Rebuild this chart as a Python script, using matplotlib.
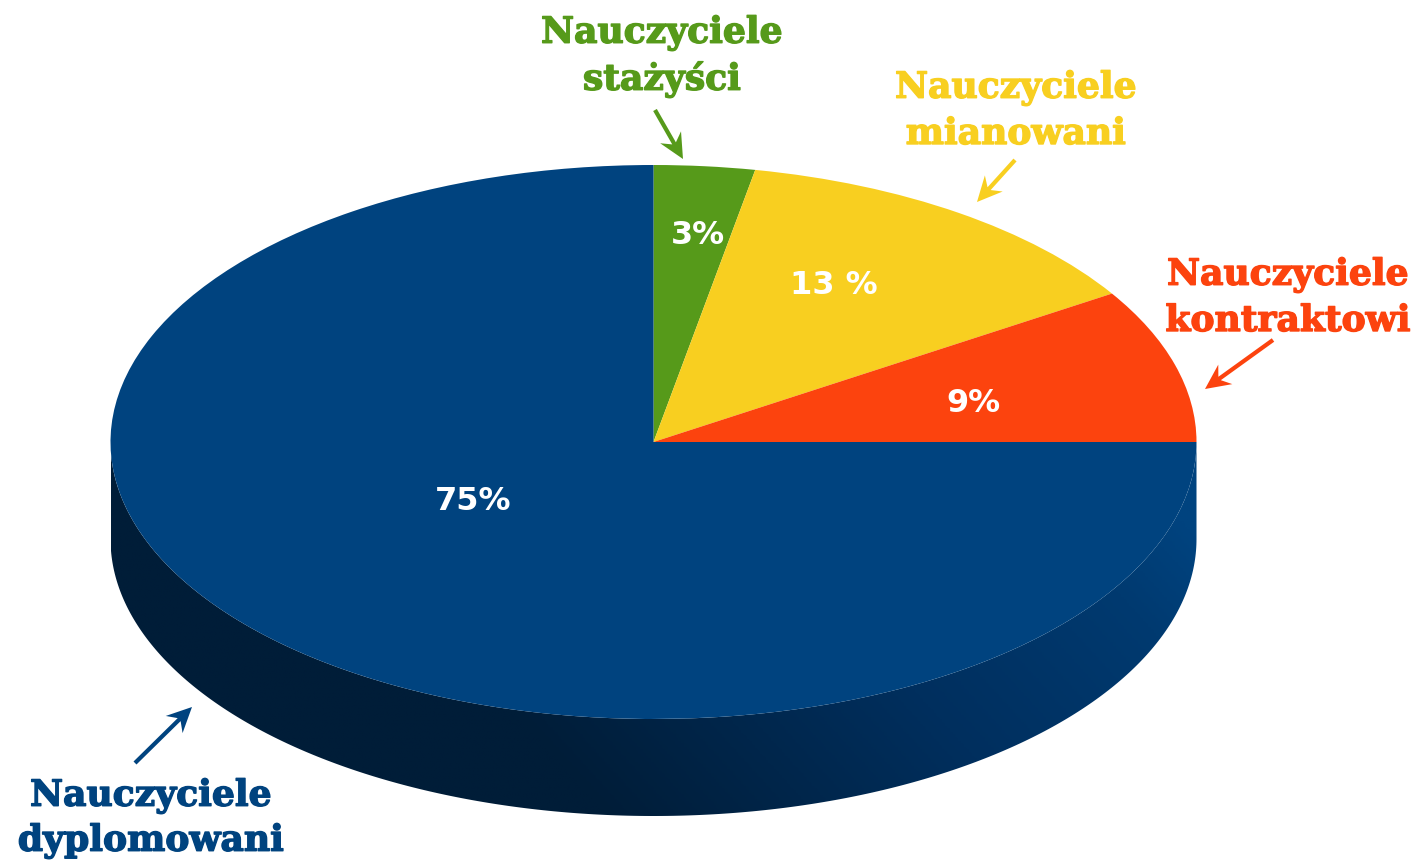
import numpy as np
import matplotlib
matplotlib.use("Agg")
import matplotlib.pyplot as plt
import matplotlib.patheffects as pe
from matplotlib.patches import Polygon
from matplotlib.colors import LinearSegmentedColormap

# slices, clockwise from the top
shares = [3, 13, 9, 75]
share_labels = ["3%", "13 %", "9%", "75%"]
group_labels = [
    ["Nauczyciele", "stażyści"],
    ["Nauczyciele", "mianowani"],
    ["Nauczyciele", "kontraktowi"],
    ["Nauczyciele", "dyplomowani"],
]

COLORS = ["#569a1a", "#f8cf20", "#fc430e", "#00437f"]
W, H = 1416, 860
CX, CY, RX, RY = 653.5, 442, 543, 277
DEPTH = 97 / RY

fig = plt.figure(figsize=(W / 100, H / 100), dpi=100)

# pie axes: unit circle squashed into the ellipse
ax = fig.add_axes([0, 0, 1, 1])
ax.pie(shares, colors=COLORS, startangle=90, counterclock=False,
       wedgeprops={"linewidth": 0.6, "edgecolor": "none", "zorder": 3})
ax.set_aspect("auto")
xlim = (-CX / RX, (W - CX) / RX)
ylim = ((CY - H) / RY, CY / RY)

# side wall with gradient
th = np.radians(np.linspace(180, 360, 300))
top = np.column_stack([np.cos(th), np.sin(th)])
bottom = top[::-1] - [0, DEPTH]
wall = Polygon(np.vstack([top, bottom]), closed=True, fc="none", ec="none", transform=ax.transData)
ax.add_patch(wall)
cmap = LinearSegmentedColormap.from_list(
    "wall", [(0, "#001d38"), (0.5, "#002f5e"), (0.85, "#003a70"), (1, "#00437f")])
gx, gy = np.meshgrid(np.linspace(0, 1, 400), np.linspace(0, 1, 200))
grad = np.clip(0.9 * (gx - 0.3) / 0.7 + 0.4 * (0.5 - gy), 0, 1)
im = ax.imshow(grad, cmap=cmap, extent=(-1, 1, -1 - DEPTH, 0), origin="upper",
               aspect="auto", zorder=1, vmin=0, vmax=1)
im.set_clip_path(wall)
ax.set_xlim(xlim)
ax.set_ylim(ylim)

# overlay in picture pixels for the labels and arrows
ov = fig.add_axes([0, 0, 1, 1])
ov.set_xlim(0, W)
ov.set_ylim(H, 0)
ov.axis("off")
ov.patch.set_alpha(0)

label_pos = [(662, 33, 80), (1016, 88, 134), (1288, 275, 321), (151, 796, 841)]
share_pos = [(698, 236), (834, 285), (973, 404), (473, 502)]
arrows = [((655, 110), (683, 159)), ((1015, 160), (977, 202)),
          ((1273, 340), (1205, 389)), ((135, 763), (192, 707))]


def draw_arrow(start, end, c):
    # thin shaft and a barbed head
    start, end = np.array(start, float), np.array(end, float)
    d = (end - start) / np.linalg.norm(end - start)
    n = np.array([-d[1], d[0]])
    L, hw, sw = 25, 12, 2.1
    pts = [end, end - L * d + hw * n, end - 0.72 * L * d + sw * n, start + sw * n,
           start - sw * n, end - 0.72 * L * d - sw * n, end - L * d - hw * n]
    ov.add_patch(Polygon(pts, closed=True, fc=c, ec="none"))


for lines, (x, y1, y2), c in zip(group_labels, label_pos, COLORS):
    for line, y in zip(lines, (y1, y2)):
        t = ov.text(x, y, line, color=c, fontsize=26, family="DejaVu Serif",
                    weight="bold", ha="center", va="center")
        t.set_path_effects([pe.withStroke(linewidth=1.0, foreground=c)])

for lab, (x, y) in zip(share_labels, share_pos):
    ov.text(x, y, lab, color="white", fontsize=23, family="DejaVu Sans",
            weight="bold", ha="center", va="center")

for (start, end), c in zip(arrows, COLORS):
    draw_arrow(start, end, c)

fig.savefig("out.png", dpi=100, facecolor="white")
